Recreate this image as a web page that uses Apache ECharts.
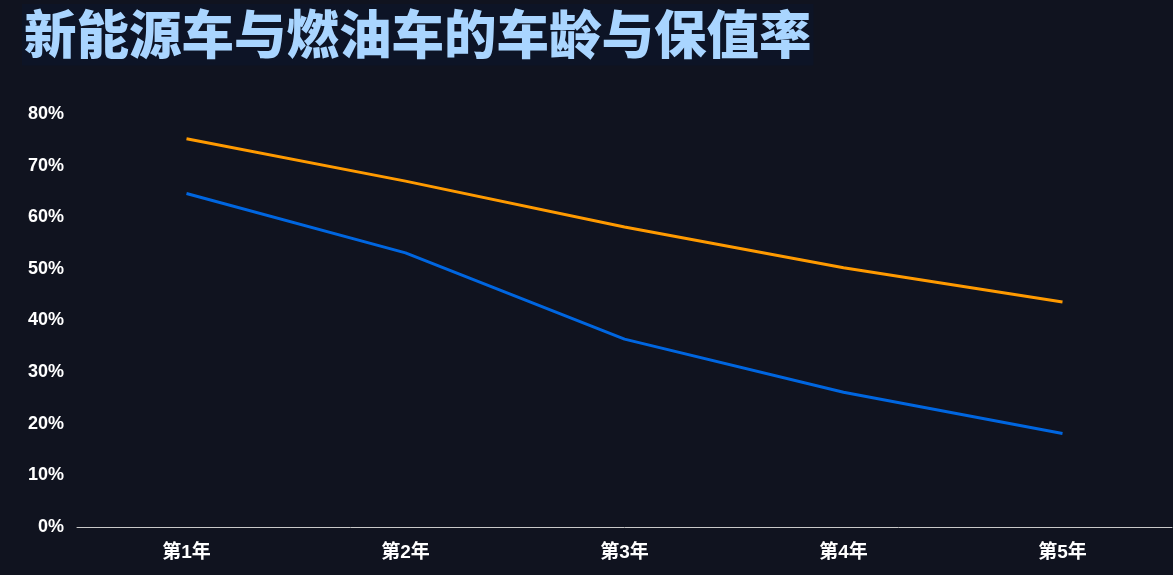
<!DOCTYPE html>
<html>
<head>
<meta charset="utf-8">
<script src="https://cdn.jsdelivr.net/npm/echarts@6/dist/echarts.min.js"></script>
<style>
  html, body { margin: 0; padding: 0; background: #10131f; }
  #chart { width: 1173px; height: 575px; }
</style>
</head>
<body>
<div id="chart"></div>
<script>
// Resale value (%) retained by car age
const categories = ['第1年', '第2年', '第3年', '第4年', '第5年'];
const fuelCars = [75.2, 67.0, 58.1, 50.2, 43.6];
const newEnergyCars = [64.6, 53.1, 36.4, 26.1, 18.1];
const yTicks = [0, 10, 20, 30, 40, 50, 60, 70, 80];

const chart = echarts.init(document.getElementById('chart'));
chart.setOption({
  backgroundColor: '#10131f',
  animation: false,
  title: {
    text: '新能源车与燃油车的车龄与保值率',
    left: 22,
    top: 4,
    padding: [4, 2, 5, 2],
    backgroundColor: '#0d1426',
    textStyle: {
      color: '#a9d5ff',
      fontSize: 52.5,
      fontWeight: 900,
      fontFamily: 'Noto Sans CJK SC',
      textShadowColor: '#3b4a66',
      textShadowOffsetX: 2,
      textShadowOffsetY: 2,
      textShadowBlur: 0
    }
  },
  grid: { left: 77, right: 1, top: 114, bottom: 48, containLabel: false },
  xAxis: {
    type: 'category',
    data: categories,
    boundaryGap: true,
    axisLine: { lineStyle: { color: '#c8c8c8', width: 1 } },
    axisTick: { show: false },
    axisLabel: {
      color: '#ffffff',
      fontSize: 19,
      fontWeight: 'bold',
      fontFamily: 'Liberation Sans, Noto Sans CJK SC',
      margin: 16
    }
  },
  yAxis: {
    type: 'value',
    min: yTicks[0],
    max: yTicks[yTicks.length - 1],
    interval: 10,
    splitLine: { show: false },
    axisLine: { show: false },
    axisTick: { show: false },
    axisLabel: {
      color: '#ffffff',
      fontSize: 18,
      fontWeight: 'bold',
      fontFamily: 'Liberation Sans',
      margin: 13,
      padding: [4, 0, 0, 0],
      formatter: v => v + '%'
    }
  },
  series: [
    {
      name: '燃油车',
      type: 'line',
      data: fuelCars,
      symbol: 'none',
      lineStyle: { color: '#ff9a00', width: 3 },
      itemStyle: { color: '#ff9a00' }
    },
    {
      name: '新能源车',
      type: 'line',
      data: newEnergyCars,
      symbol: 'none',
      lineStyle: { color: '#0066e0', width: 3 },
      itemStyle: { color: '#0066e0' }
    }
  ]
});
</script>
</body>
</html>
